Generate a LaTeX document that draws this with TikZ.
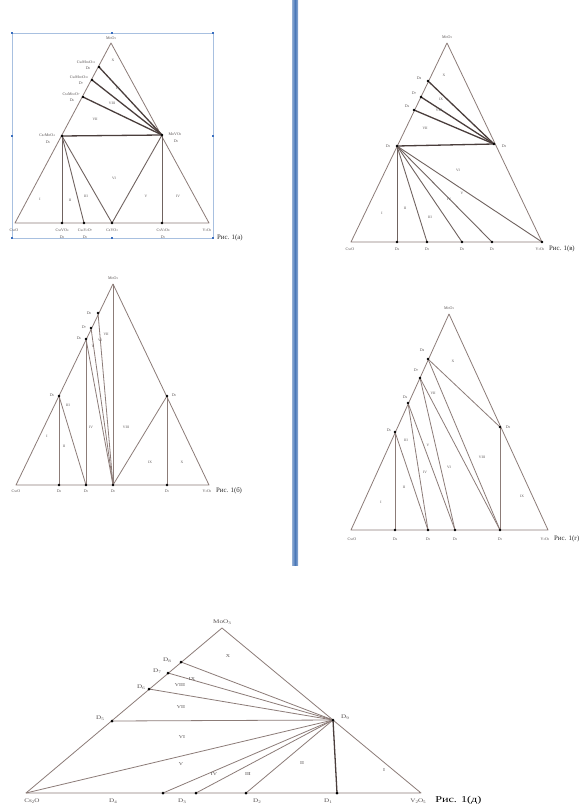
\documentclass[tikz,border=0pt]{standalone}
\usepackage{fontspec}
\usepackage{graphicx}
\setmainfont{Liberation Serif}
\newcommand{\sbx}[1]{\raisebox{-0.3ex}{\scalebox{0.7}{#1}}}
\definecolor{edgec}{HTML}{8C7C78}
\definecolor{tiec}{HTML}{4A3E3C}
\definecolor{labc}{HTML}{555050}
\definecolor{handc}{HTML}{3A6FC0}
\definecolor{framec}{HTML}{A8C0E0}
\definecolor{barc}{HTML}{4A78B8}
\tikzset{
  tri/.style={draw=edgec, line width=0.8pt, line join=round},
  tie/.style={draw=tiec, line width=1.3pt},
  thin tie/.style={draw=edgec!80!black, line width=0.9pt},
  dot/.style={circle, fill=black, inner sep=0pt, minimum size=2.6pt},
  lab/.style={font=\fontsize{4}{4}\selectfont, text=labc, inner sep=0.5pt},
  num/.style={font=\fontsize{3.6}{4}\selectfont, text=labc, inner sep=0pt},
  fig/.style={font=\fontsize{6.8}{7}\selectfont, text=black!85, inner sep=0pt, anchor=west},
  elab/.style={font=\fontsize{5.5}{6}\selectfont, text=labc, inner sep=0.5pt, xscale=1.3},
  enum/.style={font=\fontsize{4.5}{5}\selectfont, text=labc, inner sep=0pt, xscale=1.3},
  handle/.style={fill=handc, inner sep=0pt, minimum size=2.2pt},
}
\begin{document}
\begin{tikzpicture}[x=1pt,y=-1pt]
\useasboundingbox (0,0) rectangle (584,805);
\fill[white] (0,0) rectangle (584,805);
% blue separator bar
\shade[left color=barc!60, right color=barc!60, middle color=barc] (292,0) rectangle (298,565);

% ================= Panel A =================
\coordinate (Aap) at (111,43); \coordinate (Acs) at (15,223); \coordinate (Av) at (209,223);
\coordinate (A8) at (99,67); \coordinate (A7) at (92,80); \coordinate (A6) at (83,97);
\coordinate (A5) at (62,136); \coordinate (A9) at (162,135);
\coordinate (A4) at (62,223); \coordinate (A3) at (84,223); \coordinate (A2) at (112,223); \coordinate (A1) at (162,223);
\draw[framec, line width=0.5pt] (12,33) rectangle (213,238);
\foreach \h/\p in {h1/{(12,33)},h2/{(112,33)},h3/{(213,33)},h4/{(12,136)},h5/{(213,136)},h6/{(12,238)},h7/{(112,238)},h8/{(213,238)}}
  \node[handle] (A\h) at \p {};
\draw[tri] (Aap) -- (Acs) -- (Av) -- cycle;
\draw[tie] (A5) -- (A9);
\draw[tie] (A8) -- (A9); \draw[tie] (A7) -- (A9); \draw[tie] (A6) -- (A9);
\draw[thin tie] (A5) -- (A4); \draw[thin tie] (A5) -- (A3); \draw[thin tie] (A5) -- (A2);
\draw[thin tie] (A2) -- (A9); \draw[thin tie] (A9) -- (A1);
\foreach \p in {A8,A7,A6,A5,A9,A4,A3,A2,A1} \node[dot] (\p-d) at (\p) {};
\node[lab] (lAap) at (111,38) {MoO\sbx{3}};
\node[lab] (lA8a) at (86,62) {Cs\sbx{2}Mo\sbx{4}O\sbx{13}}; \node[lab] (lA8b) at (88,68) {D\sbx{8}};
\node[lab] (lA7a) at (79,77) {Cs\sbx{2}Mo\sbx{3}O\sbx{10}}; \node[lab] (lA7b) at (81,83) {D\sbx{7}};
\node[lab] (lA6a) at (71,94) {Cs\sbx{2}Mo\sbx{2}O\sbx{7}}; \node[lab] (lA6b) at (72,100) {D\sbx{6}};
\node[lab] (lA5a) at (47,135) {Cs\sbx{2}MoO\sbx{4}}; \node[lab] (lA5b) at (48,142) {D\sbx{5}};
\node[lab] (lA9a) at (175,134) {MoVO\sbx{5}}; \node[lab] (lA9b) at (176,141) {D\sbx{9}};
\node[lab] (lAcs) at (14,230) {Cs\sbx{2}O};
\node[lab] (lA4a) at (62,230) {Cs\sbx{3}VO\sbx{4}}; \node[lab] (lA4b) at (62,237) {D\sbx{4}};
\node[lab] (lA3a) at (85,230) {Cs\sbx{4}V\sbx{2}O\sbx{7}}; \node[lab] (lA3b) at (85,237) {D\sbx{3}};
\node[lab] (lA2a) at (112,230) {CsVO\sbx{3}};
\node[lab] (lA1a) at (163,230) {CsV\sbx{3}O\sbx{8}}; \node[lab] (lA1b) at (163,237) {D\sbx{1}};
\node[lab] (lAv) at (207,230) {V\sbx{2}O\sbx{5}};
\node[fig] (figA) at (217,238) {Рис. 1(а)};
\node[num] (nA10) at (113,60) {X};
\node[num] (nA9) at (118,88) {IX};
\node[num] (nA8) at (112,103) {VIII};
\node[num] (nA7) at (95,119) {VII};
\node[num] (nA6) at (114,178) {VI};
\node[num] (nA5) at (146,196) {V};
\node[num] (nA4) at (178,196) {IV};
\node[num] (nA1) at (40,199) {I};
\node[num] (nA2) at (70,200) {II};
\node[num] (nA3) at (86,196) {III};

% ================= Panel B =================
\coordinate (Bap) at (447,43); \coordinate (Bcs) at (351,242); \coordinate (Bv) at (542,242);
\coordinate (B8) at (428,81); \coordinate (B7) at (421,97); \coordinate (B6) at (414,110);
\coordinate (B5) at (397,146); \coordinate (B9) at (494,144);
\coordinate (B4) at (397,242); \coordinate (B3) at (427,242); \coordinate (B2) at (462,242); \coordinate (B1) at (492,242);
\draw[tri] (Bap) -- (Bcs) -- (Bv) -- cycle;
\draw[tie] (B5) -- (B9);
\draw[tie] (B8) -- (B9); \draw[tie] (B7) -- (B9); \draw[tie] (B6) -- (B9);
\draw[thin tie] (B5) -- (B4); \draw[thin tie] (B5) -- (B3); \draw[thin tie] (B5) -- (B2);
\draw[thin tie] (B5) -- (B1); \draw[thin tie] (B5) -- (Bv);
\foreach \p in {B8,B7,B6,B5,B9,B4,B3,B2,B1,Bv} \node[dot] (\p-d) at (\p) {};
\node[lab] (lBap) at (447,37) {MoO\sbx{3}};
\node[lab] (lB8) at (419,78) {D\sbx{8}};
\node[lab] (lB7) at (414,93) {D\sbx{7}};
\node[lab] (lB6) at (407,106) {D\sbx{6}};
\node[lab] (lB5) at (388,146) {D\sbx{5}};
\node[lab] (lB9) at (504,146) {D\sbx{9}};
\node[lab] (lBcs) at (350,249) {Cs\sbx{2}O};
\node[lab] (lB4) at (397,249) {D\sbx{4}};
\node[lab] (lB3) at (427,249) {D\sbx{3}};
\node[lab] (lB2) at (462,249) {D\sbx{2}};
\node[lab] (lB1) at (492,249) {D\sbx{1}};
\node[lab] (lBv) at (540,249) {V\sbx{2}O\sbx{5}};
\node[fig] (figB) at (549,249) {Рис. 1(в)};
\node[num] (nB10) at (444,75) {X};
\node[num] (nB9) at (441,99) {IX};
\node[num] (nB8) at (439,110) {VIII};
\node[num] (nB7) at (425,128) {VII};
\node[num] (nB6) at (458,170) {VI};
\node[num] (nB5) at (462,193) {V};
\node[num] (nB4) at (449,199) {IV};
\node[num] (nB3) at (430,217) {III};
\node[num] (nB2) at (405,208) {II};
\node[num] (nB1) at (382,213) {I};

% ================= Panel C =================
\coordinate (Cap) at (113,284); \coordinate (Ccs) at (16,485); \coordinate (Cv) at (209,485);
\coordinate (C8) at (98,313); \coordinate (C7) at (91,328); \coordinate (C6) at (86,339);
\coordinate (C5) at (59,396); \coordinate (C9) at (167,396);
\coordinate (C4) at (59,485); \coordinate (C3) at (86,485); \coordinate (C2) at (113,485); \coordinate (C1) at (167,485);
\draw[tri] (Cap) -- (Ccs) -- (Cv) -- cycle;
\draw[tri] (Cap) -- (C2);
\draw[tri] (C5) -- (C4); \draw[tri] (C5) -- (C3);
\draw[tri] (C6) -- (C3); \draw[tri] (C6) -- (C2);
\draw[tri] (C7) -- (C2); \draw[tri] (C8) -- (C2);
\draw[tri] (C2) -- (C9); \draw[tri] (C9) -- (C1);
\foreach \p in {C8,C7,C6,C5,C9,C4,C3,C2,C1} \node[dot] (\p-d) at (\p) {};
\node[lab] (lCap) at (113,278) {MoO\sbx{3}};
\node[lab] (lC8) at (89,313) {D\sbx{8}};
\node[lab] (lC7) at (84,327) {D\sbx{7}};
\node[lab] (lC6) at (79,338) {D\sbx{6}};
\node[lab] (lC5) at (52,395) {D\sbx{5}};
\node[lab] (lC9) at (174,395) {D\sbx{9}};
\node[lab] (lCcs) at (16,491) {Cs\sbx{2}O};
\node[lab] (lC4) at (59,491) {D\sbx{4}};
\node[lab] (lC3) at (86,491) {D\sbx{3}};
\node[lab] (lC2) at (113,491) {D\sbx{2}};
\node[lab] (lC1) at (167,491) {D\sbx{1}};
\node[lab] (lCv) at (207,491) {V\sbx{2}O\sbx{5}};
\node[fig] (figC) at (216,491) {Рис. 1(б)};
\node[num] (nC1) at (47,436) {I};
\node[num] (nC2) at (64,446) {II};
\node[num] (nC3) at (68,405) {III};
\node[num] (nC4) at (91,427) {IV};
\node[num] (nC5) at (93,346) {V};
\node[num] (nC6) at (100,340) {VI};
\node[num] (nC7) at (106,334) {VII};
\node[num] (nC8) at (126,427) {VIII};
\node[num] (nC9) at (150,462) {IX};
\node[num] (nC10) at (182,462) {X};

% ================= Panel D =================
\coordinate (Dap) at (449,314); \coordinate (Dcs) at (351,530); \coordinate (Dv) at (548,530);
\coordinate (D8) at (428,359); \coordinate (D7) at (420,378); \coordinate (D6) at (408,403);
\coordinate (D5) at (395,432); \coordinate (D9) at (500,427);
\coordinate (D4) at (395,530); \coordinate (D3) at (428,530); \coordinate (D2) at (455,530); \coordinate (D1) at (500,530);
\draw[tri] (Dap) -- (Dcs) -- (Dv) -- cycle;
\draw[tri] (D5) -- (D4); \draw[tri] (D5) -- (D3);
\draw[tri] (D6) -- (D3); \draw[tri] (D6) -- (D2);
\draw[tri] (D7) -- (D2); \draw[tri] (D7) -- (D1);
\draw[tri] (D8) -- (D1); \draw[tri] (D8) -- (D9);
\draw[tri] (D9) -- (D1);
\foreach \p in {D8,D7,D6,D5,D9,D4,D3,D2,D1} \node[dot] (\p-d) at (\p) {};
\node[lab] (lDap) at (449,308) {MoO\sbx{3}};
\node[lab] (lD8) at (422,350) {D\sbx{8}};
\node[lab] (lD7) at (416,370) {D\sbx{7}};
\node[lab] (lD6) at (405,397) {D\sbx{6}};
\node[lab] (lD5) at (389,430) {D\sbx{5}};
\node[lab] (lD9) at (508,427) {D\sbx{9}};
\node[lab] (lDcs) at (352,539) {Cs\sbx{2}O};
\node[lab] (lD4) at (395,539) {D\sbx{4}};
\node[lab] (lD3) at (428,539) {D\sbx{3}};
\node[lab] (lD2) at (455,539) {D\sbx{2}};
\node[lab] (lD1) at (500,539) {D\sbx{1}};
\node[lab] (lDv) at (545,539) {V\sbx{2}O\sbx{5}};
\node[fig] (figD) at (554,539) {Рис. 1(г)};
\node[num] (nD1) at (381,502) {I};
\node[num] (nD2) at (404,487) {II};
\node[num] (nD3) at (406,440) {III};
\node[num] (nD4) at (425,472) {IV};
\node[num] (nD5) at (428,445) {V};
\node[num] (nD6) at (449,467) {VI};
\node[num] (nD7) at (433,393) {VII};
\node[num] (nD8) at (482,457) {VIII};
\node[num] (nD9) at (522,496) {IX};
\node[num] (nD10) at (453,361) {X};

% ================= Panel E =================
\coordinate (Eap) at (222,628); \coordinate (Ecs) at (26,793); \coordinate (Ev) at (421,793);
\coordinate (E8) at (181,662); \coordinate (E7) at (168,673); \coordinate (E6) at (149,689);
\coordinate (E5) at (112,721); \coordinate (E9) at (333,720);
\coordinate (E4) at (163,793); \coordinate (E3) at (196,793); \coordinate (E2) at (246,793); \coordinate (E1) at (337,793);
\draw[tri] (Eap) -- (Ecs) -- (Ev) -- cycle;
\draw[tri] (E8) -- (E9); \draw[tri] (E7) -- (E9); \draw[tri] (E6) -- (E9); \draw[tri] (E5) -- (E9);
\draw[tri] (Ecs) -- (E9); \draw[tri] (E4) -- (E9); \draw[tri] (E3) -- (E9); \draw[tri] (E2) -- (E9);
\draw[tie] (E9) -- (E1);
\foreach \p in {E8,E7,E6,E5,E9,E4,E3,E2,E1} \node[dot, minimum size=3pt] (\p-d) at (\p) {};
\node[elab] (lEap) at (222,622) {MoO\sbx{3}};
\node[elab] (lE8) at (167,660) {D\sbx{8}};
\node[elab] (lE7) at (157,671) {D\sbx{7}};
\node[elab] (lE6) at (141,687) {D\sbx{6}};
\node[elab] (lE5) at (100,718) {D\sbx{5}};
\node[elab] (lE9) at (345,717) {D\sbx{9}};
\node[elab] (lEcs) at (32,801) {Cs\sbx{2}O};
\node[elab] (lE4) at (113,801) {D\sbx{4}};
\node[elab] (lE3) at (182,801) {D\sbx{3}};
\node[elab] (lE2) at (257,801) {D\sbx{2}};
\node[elab] (lE1) at (328,801) {D\sbx{1}};
\node[elab] (lEv) at (418,801) {V\sbx{2}O\sbx{5}};
\node[font=\fontsize{9}{9}\selectfont, inner sep=0pt, anchor=west, xscale=1.35] (figE) at (435,800) {Рис. 1(д)};
\node[enum] (nE10) at (228,656) {X};
\node[enum] (nE9) at (192,679) {IX};
\node[enum] (nE8) at (180,685) {VIII};
\node[enum] (nE7) at (181,707) {VII};
\node[enum] (nE6) at (182,737) {VI};
\node[enum] (nE5) at (181,764) {V};
\node[enum] (nE4) at (214,774) {IV};
\node[enum] (nE3) at (248,774) {III};
\node[enum] (nE2) at (302,763) {II};
\node[enum] (nE1) at (384,770) {I};
\end{tikzpicture}
\end{document}
